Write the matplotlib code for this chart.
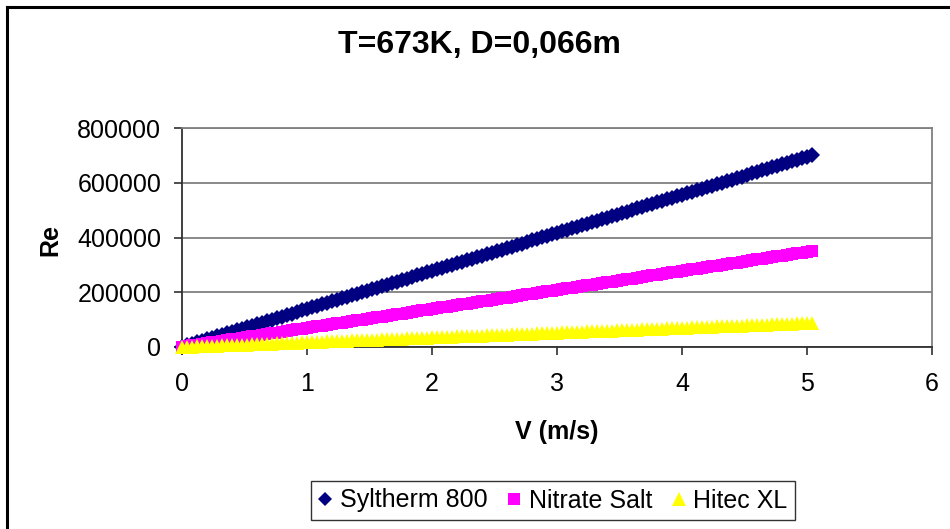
import matplotlib
matplotlib.use("Agg")
import matplotlib.pyplot as plt
from matplotlib.lines import Line2D

plt.rcParams['font.family'] = ['Liberation Sans', 'DejaVu Sans']

title = "T=673K, D=0,066m"
x_label = "V (m/s)"
y_label = "Re"
series_names = ["Syltherm 800", "Nitrate Salt", "Hitec XL"]

# flow velocity (m/s)
V = [0.00, 0.04, 0.08, 0.12, 0.16, 0.20, 0.24, 0.28, 0.32, 0.36,
     0.40, 0.44, 0.48, 0.52, 0.56, 0.60, 0.64, 0.68, 0.72, 0.76,
     0.80, 0.84, 0.88, 0.92, 0.96, 1.00, 1.04, 1.08, 1.12, 1.16,
     1.20, 1.24, 1.28, 1.32, 1.36, 1.40, 1.44, 1.48, 1.52, 1.56,
     1.60, 1.64, 1.68, 1.72, 1.76, 1.80, 1.84, 1.88, 1.92, 1.96,
     2.00, 2.04, 2.08, 2.12, 2.16, 2.20, 2.24, 2.28, 2.32, 2.36,
     2.40, 2.44, 2.48, 2.52, 2.56, 2.60, 2.64, 2.68, 2.72, 2.76,
     2.80, 2.84, 2.88, 2.92, 2.96, 3.00, 3.04, 3.08, 3.12, 3.16,
     3.20, 3.24, 3.28, 3.32, 3.36, 3.40, 3.44, 3.48, 3.52, 3.56,
     3.60, 3.64, 3.68, 3.72, 3.76, 3.80, 3.84, 3.88, 3.92, 3.96,
     4.00, 4.04, 4.08, 4.12, 4.16, 4.20, 4.24, 4.28, 4.32, 4.36,
     4.40, 4.44, 4.48, 4.52, 4.56, 4.60, 4.64, 4.68, 4.72, 4.76,
     4.80, 4.84, 4.88, 4.92, 4.96, 5.00, 5.04]

re_syltherm = [0, 5560, 11120, 16680, 22240, 27800, 33360, 38920, 44480, 50040,
               55600, 61160, 66720, 72280, 77840, 83400, 88960, 94520, 100080, 105640,
               111200, 116760, 122320, 127880, 133440, 139000, 144560, 150120, 155680, 161240,
               166800, 172360, 177920, 183480, 189040, 194600, 200160, 205720, 211280, 216840,
               222400, 227960, 233520, 239080, 244640, 250200, 255760, 261320, 266880, 272440,
               278000, 283560, 289120, 294680, 300240, 305800, 311360, 316920, 322480, 328040,
               333600, 339160, 344720, 350280, 355840, 361400, 366960, 372520, 378080, 383640,
               389200, 394760, 400320, 405880, 411440, 417000, 422560, 428120, 433680, 439240,
               444800, 450360, 455920, 461480, 467040, 472600, 478160, 483720, 489280, 494840,
               500400, 505960, 511520, 517080, 522640, 528200, 533760, 539320, 544880, 550440,
               556000, 561560, 567120, 572680, 578240, 583800, 589360, 594920, 600480, 606040,
               611600, 617160, 622720, 628280, 633840, 639400, 644960, 650520, 656080, 661640,
               667200, 672760, 678320, 683880, 689440, 695000, 700560]

re_nitrate = [0, 2780, 5560, 8340, 11120, 13900, 16680, 19460, 22240, 25020,
              27800, 30580, 33360, 36140, 38920, 41700, 44480, 47260, 50040, 52820,
              55600, 58380, 61160, 63940, 66720, 69500, 72280, 75060, 77840, 80620,
              83400, 86180, 88960, 91740, 94520, 97300, 100080, 102860, 105640, 108420,
              111200, 113980, 116760, 119540, 122320, 125100, 127880, 130660, 133440, 136220,
              139000, 141780, 144560, 147340, 150120, 152900, 155680, 158460, 161240, 164020,
              166800, 169580, 172360, 175140, 177920, 180700, 183480, 186260, 189040, 191820,
              194600, 197380, 200160, 202940, 205720, 208500, 211280, 214060, 216840, 219620,
              222400, 225180, 227960, 230740, 233520, 236300, 239080, 241860, 244640, 247420,
              250200, 252980, 255760, 258540, 261320, 264100, 266880, 269660, 272440, 275220,
              278000, 280780, 283560, 286340, 289120, 291900, 294680, 297460, 300240, 303020,
              305800, 308580, 311360, 314140, 316920, 319700, 322480, 325260, 328040, 330820,
              333600, 336380, 339160, 341940, 344720, 347500, 350280]

re_hitec = [0, 700, 1400, 2100, 2800, 3500, 4200, 4900, 5600, 6300,
            7000, 7700, 8400, 9100, 9800, 10500, 11200, 11900, 12600, 13300,
            14000, 14700, 15400, 16100, 16800, 17500, 18200, 18900, 19600, 20300,
            21000, 21700, 22400, 23100, 23800, 24500, 25200, 25900, 26600, 27300,
            28000, 28700, 29400, 30100, 30800, 31500, 32200, 32900, 33600, 34300,
            35000, 35700, 36400, 37100, 37800, 38500, 39200, 39900, 40600, 41300,
            42000, 42700, 43400, 44100, 44800, 45500, 46200, 46900, 47600, 48300,
            49000, 49700, 50400, 51100, 51800, 52500, 53200, 53900, 54600, 55300,
            56000, 56700, 57400, 58100, 58800, 59500, 60200, 60900, 61600, 62300,
            63000, 63700, 64400, 65100, 65800, 66500, 67200, 67900, 68600, 69300,
            70000, 70700, 71400, 72100, 72800, 73500, 74200, 74900, 75600, 76300,
            77000, 77700, 78400, 79100, 79800, 80500, 81200, 81900, 82600, 83300,
            84000, 84700, 85400, 86100, 86800, 87500, 88200]

x_ticks = [0, 1, 2, 3, 4, 5, 6]
y_ticks = [0, 200000, 400000, 600000, 800000]

colors = ["#000080", "#FF00FF", "#FFFF00"]
markers = ["D", "s", "^"]
sizes = [8.5, 9.0, 10.5]
legend_sizes = [7.5, 8.0, 9.5]

fig = plt.figure(figsize=(9.5, 5.29), dpi=100)
ax = fig.add_axes([182 / 950, 1 - 347 / 529, 750 / 950, 219 / 529])

for y, c, m, s, name in zip([re_syltherm, re_nitrate, re_hitec], colors, markers, sizes, series_names):
    ax.plot(V, y, linestyle="none", marker=m, markersize=s, color=c,
            markeredgewidth=0, label=name, clip_on=False, zorder=3)

ax.set_xlim(0, 6)
ax.set_ylim(0, 800000)
ax.set_xticks(x_ticks)
ax.set_yticks(y_ticks)
ax.set_xticklabels([str(t) for t in x_ticks])
ax.set_yticklabels([str(t) for t in y_ticks])

ax.yaxis.grid(True, color="#808080", linewidth=1.3)
ax.set_axisbelow(True)
for side in ["top", "right"]:
    ax.spines[side].set_color("#808080")
    ax.spines[side].set_linewidth(1.3)
for side in ["left", "bottom"]:
    ax.spines[side].set_color("#303030")
    ax.spines[side].set_linewidth(1.3)

ax.tick_params(axis="both", direction="out", length=6, width=1.2, color="#303030",
               labelsize=18, labelcolor="black")
ax.tick_params(axis="x", pad=12)
ax.tick_params(axis="y", pad=9)

fig.text(479 / 950, 1 - 45 / 529, title, ha="center", va="center",
         fontsize=23, fontweight="bold")
fig.text(557 / 950, 1 - 432 / 529, x_label, ha="center", va="center",
         fontsize=18, fontweight="bold")
fig.text(50 / 950, 1 - 240 / 529, y_label, ha="center", va="center",
         fontsize=18, fontweight="bold", rotation=90)

handles = [Line2D([], [], linestyle="none", marker=m, markersize=s, color=c,
                  markeredgewidth=0) for c, m, s in zip(colors, markers, legend_sizes)]
leg = fig.legend(handles, series_names, loc="center",
                 bbox_to_anchor=(553 / 950, 1 - 500.5 / 529), ncol=3,
                 fontsize=18, frameon=True, fancybox=False, edgecolor="black",
                 handlelength=0.55, handletextpad=0.3, columnspacing=0.8,
                 borderpad=0.3, borderaxespad=0)
leg.get_frame().set_linewidth(1.0)

# chart frame on the left and top edges
fig.add_artist(Line2D([7 / 950, 7 / 950], [0, 1 - 7 / 529], transform=fig.transFigure,
                      color="black", linewidth=2.2))
fig.add_artist(Line2D([7 / 950, 1], [1 - 7 / 529, 1 - 7 / 529], transform=fig.transFigure,
                      color="black", linewidth=2.2))

fig.savefig("out.png", dpi=100)
